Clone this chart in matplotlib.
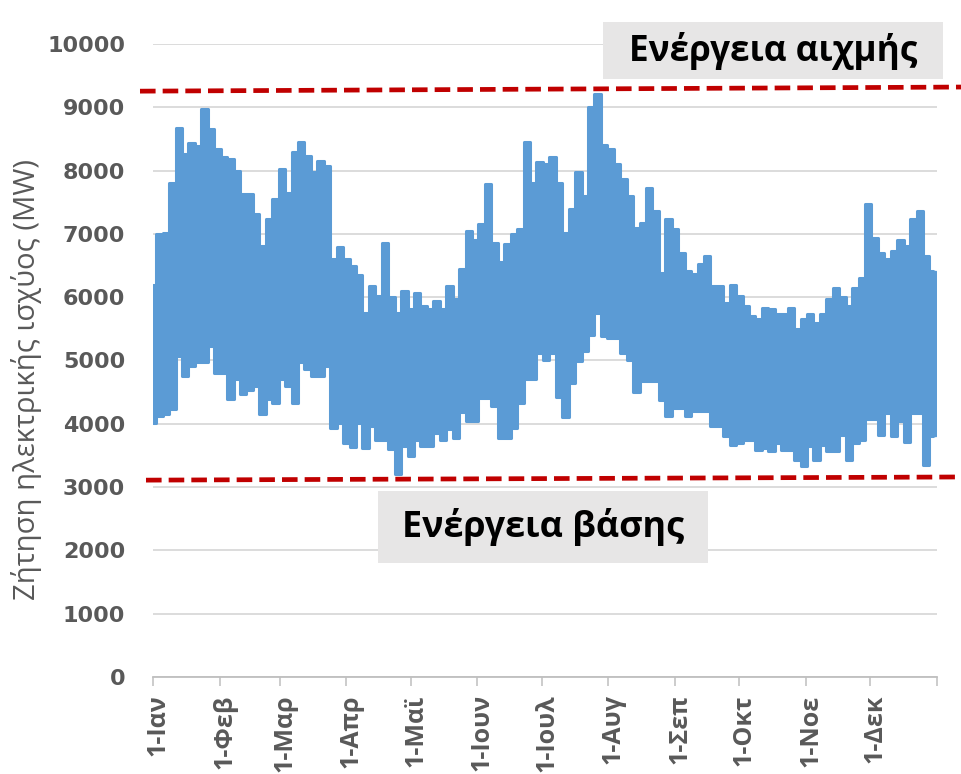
import numpy as np
import matplotlib
matplotlib.use("Agg")
import matplotlib.pyplot as plt
import matplotlib.transforms as mtransforms
from matplotlib.patches import Rectangle
from matplotlib.lines import Line2D

# ---------------- data ----------------
month_labels = ["1-Ιαν", "1-Φεβ", "1-Μαρ", "1-Απρ", "1-Μαϊ", "1-Ιουν",
                "1-Ιουλ", "1-Αυγ", "1-Σεπ", "1-Οκτ", "1-Νοε", "1-Δεκ"]
month_start_day = [0, 31, 59, 90, 120, 151, 181, 212, 243, 273, 304, 334]
year_days = 365

# day of year for each sample (every 3 days)
sample_day = list(range(0, 364, 3))

# upper envelope of hourly demand (MW)
peak_mw = [6200, 7000, 7020, 7800, 8680, 8260, 8440, 8390, 8970, 8650,
           8340, 8210, 8180, 8000, 7630, 7630, 7310, 6810, 7230, 7550,
           8020, 7650, 8290, 8450, 8230, 7970, 8150, 8070, 6600, 6790,
           6600, 6500, 6350, 5750, 6180, 6020, 6860, 6000, 5750, 6100,
           5810, 6070, 5860, 5810, 5940, 5810, 6180, 5970, 6440, 7050,
           6900, 7150, 7790, 6860, 6550, 6840, 7000, 7080, 8450, 7810,
           8130,
           8100, 8210, 7810, 7020, 7390, 7970, 7600, 9000, 9210, 8400,
           8340, 8100, 7860, 7600, 7100, 7180, 7730, 7360, 6390, 7230,
           7070, 6700, 6410, 6360, 6520, 6650, 6180, 6180, 5910, 6200,
           6020,
           5860, 5700, 5650, 5830, 5810, 5730, 5730, 5830, 5500, 5650,
           5730, 5600, 5730, 5965, 6150, 6000, 5860, 6150, 6310, 7470,
           6940, 6700, 6600, 6730, 6910, 6810, 7230, 7360, 6650, 6410]

# lower envelope of hourly demand (MW)
base_mw = [4020, 4120, 4150, 4230, 5070, 4760, 4920, 4970, 4970, 5230,
           4810, 4810, 4390, 4700, 4470, 4540, 4600, 4150, 4390, 4330,
           4700, 4600, 4330, 4970, 4860, 4760, 4760, 4910, 3940, 4020,
           3700, 3640, 4020, 3620, 3970, 3750, 3750, 3600, 3200, 3650,
           3490, 3750, 3650, 3650, 3860, 3750, 3910, 3780, 4180, 4040,
           4040, 4410, 4410, 4280, 3780, 3780, 3940, 4330, 4700, 4700,
           5120,
           5000, 5120, 4430, 4100, 4650, 4990, 5150, 5410, 5750, 5390,
           5360, 5360, 5120, 5000, 4500, 4670, 4670, 4670, 4380, 4120,
           4250, 4250, 4120, 4200, 4200, 4200, 3960, 3960, 3800, 3670,
           3700,
           3750, 3750, 3590, 3620, 3570, 3700, 3590, 3590, 3430, 3330,
           3645, 3430, 3670, 3570, 3570, 3830, 3430, 3700, 3750, 4070,
           4070, 3830, 4170, 3800, 4040, 3720, 4170, 4170, 3350, 3800]

y_ticks = [0, 1000, 2000, 3000, 4000, 5000, 6000, 7000, 8000, 9000, 10000]

# annotation levels (start/end of the dashed guide lines, MW)
peak_level = [9255, 9320]
base_level = [3110, 3160]
peak_text = "Ενέργεια αιχμής"
base_text = "Ενέργεια βάσης"
y_label = "Ζήτηση ηλεκτρικής ισχύος (MW)"

# ---------------- figure ----------------
W, H = 961, 774
fig = plt.figure(figsize=(W / 100, H / 100), dpi=100)
fig.patch.set_facecolor("white")

ax_l, ax_r, ax_t, ax_b = 153, 937, 44, 677
ax = fig.add_axes([ax_l / W, 1 - ax_b / H, (ax_r - ax_l) / W, (ax_b - ax_t) / H])
ax.set_xlim(0, year_days)
ax.set_ylim(0, 10000)

blue = "#5B9BD5"
heights = [p - b for p, b in zip(peak_mw, base_mw)]
ax.bar(sample_day, heights, bottom=base_mw, width=3.0, align="center",
       color=blue, edgecolor=blue, linewidth=1.0, zorder=3)
for env in (peak_mw, base_mw):
    ax.step(sample_day, env, where="mid", color=blue, linewidth=2.2,
            solid_joinstyle="round", solid_capstyle="round", zorder=3)

# grid / spines
ax.set_yticks(y_ticks)
ax.yaxis.grid(True, color="#d9d9d9", linewidth=1.3)
ax.set_axisbelow(True)
for s in ["left", "right", "top"]:
    ax.spines[s].set_visible(False)
ax.spines["bottom"].set_color("#bfbfbf")
ax.spines["bottom"].set_linewidth(1.3)
ax.spines["bottom"].set_zorder(4)

ax.set_xticks(month_start_day + [year_days])
ax.set_xticklabels(month_labels + [""])
gray = "#595959"
ax.tick_params(axis="x", direction="out", length=6.5, width=1.1, color="#bfbfbf",
               pad=6, labelsize=18, labelcolor=gray)
shift = mtransforms.ScaledTranslation(5 / 100, 0, fig.dpi_scale_trans)
for lab in ax.get_xticklabels():
    lab.set_rotation(90)
    lab.set_fontweight("bold")
    lab.set_family(["Open Sans", "DejaVu Sans"])
    lab.set_verticalalignment("top")
    lab.set_horizontalalignment("center")
    lab.set_transform(lab.get_transform() + shift)
ax.tick_params(axis="y", length=0, pad=20, labelsize=16, labelcolor=gray)
for lab in ax.get_yticklabels():
    lab.set_fontweight("bold")

ylab = fig.text(27 / W, 1 - 379 / H, y_label, rotation=90, ha="center", va="center",
                color=gray, fontsize=17, family=["Open Sans", "DejaVu Sans"])

# dashed guide lines (extend beyond the axes)
red = "#C00000"
x_left_peak = (140 - ax_l) / (ax_r - ax_l) * year_days
x_left_base = (146 - ax_l) / (ax_r - ax_l) * year_days
x_right = (961 - ax_l) / (ax_r - ax_l) * year_days
for xs, lev in [((x_left_peak, x_right), peak_level), ((x_left_base, x_right), base_level)]:
    ln = Line2D(xs, lev, color=red, linewidth=3.4, linestyle=(0, (3.3, 1.5)),
                dash_capstyle="butt", clip_on=False, zorder=5)
    ax.add_line(ln)

# annotation boxes
box_col = "#e7e6e6"
def add_box(x0, y0, x1, y1, txt, target_w):
    r = Rectangle((x0 / W, 1 - y1 / H), (x1 - x0) / W, (y1 - y0) / H,
                  transform=fig.transFigure, facecolor=box_col, edgecolor="none", zorder=6)
    fig.patches.append(r)
    t = fig.text((x0 + x1) / 2 / W, 1 - (y0 + y1) / 2 / H, txt, ha="center", va="center",
                 fontsize=20, fontweight="bold", color="black",
                 family=["Open Sans", "DejaVu Sans"], zorder=7)
    return t, target_w

texts = [add_box(603, 22, 943, 79, peak_text, 288),
         add_box(378, 491, 708, 563, base_text, 282)]

# fit text sizes to the measured widths
fig.canvas.draw()
r = fig.canvas.get_renderer()
for t, tw in texts:
    bb = t.get_window_extent(r)
    t.set_fontsize(t.get_fontsize() * tw / bb.width)
bb = ylab.get_window_extent(r)
ylab.set_fontsize(ylab.get_fontsize() * 440 / bb.height)

fig.savefig("out.png", dpi=100, facecolor="white")
